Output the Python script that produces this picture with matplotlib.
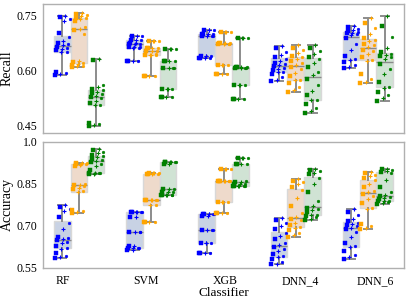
import numpy as np
import matplotlib
matplotlib.use('Agg')
import matplotlib.pyplot as plt

plt.rcParams['font.family'] = ['Liberation Serif', 'DejaVu Serif']

classifiers = ['RF', 'SVM', 'XGB', 'DNN_4', 'DNN_6']
metrics = ['Recall', 'Accuracy']

# each entry: [blue group, orange group, green group]
recall_RF = [
    [0.588, 0.590, 0.592, 0.596, 0.649, 0.650, 0.655, 0.658, 0.662, 0.665,
     0.669, 0.672, 0.676, 0.681, 0.690, 0.702, 0.735, 0.740, 0.745, 0.749],
    [0.609, 0.611, 0.613, 0.616, 0.619, 0.620, 0.622, 0.625, 0.700, 0.710,
     0.714, 0.718, 0.735, 0.740, 0.742, 0.743, 0.747, 0.750, 0.754, 0.757],
    [0.449, 0.452, 0.455, 0.458, 0.505, 0.506, 0.512, 0.518, 0.524, 0.527,
     0.531, 0.535, 0.538, 0.541, 0.546, 0.550, 0.555, 0.560, 0.628, 0.632],
]
recall_SVM = [
    [0.626] * 4 + [0.660] * 2 + [0.664] * 3 + [0.672] * 3 + [0.676] * 2 + [0.683] * 3 + [0.694] * 3,
    [0.585] * 4 + [0.642] * 4 + [0.645] + [0.654] * 3 + [0.660] * 4 + [0.681] * 4,
    [0.529] * 4 + [0.549] * 4 + [0.606] * 4 + [0.627] * 4 + [0.658] * 4,
]
recall_XGB = [
    [0.634] * 4 + [0.639] * 4 + [0.694] * 4 + [0.698] * 4 + [0.711] * 4,
    [0.590] * 4 + [0.616] * 4 + [0.672] * 4 + [0.676] * 4 + [0.706] * 4,
    [0.522] * 4 + [0.561] * 4 + [0.606] * 4 + [0.610] * 4 + [0.689] * 4,
]
recall_DNN_4 = [
    [0.571, 0.575, 0.582, 0.590, 0.596, 0.597, 0.601, 0.604, 0.608, 0.611,
     0.615, 0.618, 0.621, 0.626, 0.632, 0.636, 0.641, 0.650, 0.660, 0.667],
    [0.542, 0.548, 0.555, 0.566, 0.573, 0.574, 0.584, 0.594, 0.603, 0.609,
     0.615, 0.620, 0.626, 0.631, 0.636, 0.640, 0.648, 0.655, 0.662, 0.669],
    [0.484, 0.490, 0.498, 0.510, 0.519, 0.521, 0.532, 0.545, 0.560, 0.578,
     0.588, 0.597, 0.610, 0.621, 0.632, 0.636, 0.645, 0.652, 0.661, 0.669],
]
recall_DNN_6 = [
    [0.606, 0.610, 0.615, 0.622, 0.628, 0.630, 0.640, 0.655, 0.672, 0.688,
     0.696, 0.699, 0.701, 0.703, 0.704, 0.708, 0.711, 0.714, 0.718, 0.721],
    [0.565, 0.570, 0.578, 0.590, 0.626, 0.628, 0.638, 0.646, 0.652, 0.657,
     0.663, 0.668, 0.673, 0.679, 0.684, 0.688, 0.700, 0.715, 0.730, 0.742],
    [0.518, 0.525, 0.533, 0.542, 0.553, 0.555, 0.570, 0.590, 0.605, 0.618,
     0.630, 0.636, 0.640, 0.643, 0.646, 0.650, 0.662, 0.690, 0.720, 0.749],
]

accuracy_RF = [
    [0.587, 0.589, 0.592, 0.605, 0.619, 0.621, 0.630, 0.638, 0.644, 0.648,
     0.652, 0.656, 0.662, 0.690, 0.712, 0.732, 0.752, 0.760, 0.768, 0.774],
    [0.745, 0.748, 0.752, 0.756, 0.821, 0.823, 0.830, 0.836, 0.842, 0.845,
     0.847, 0.850, 0.912, 0.916, 0.919, 0.921, 0.922, 0.923, 0.923, 0.923],
    [0.884, 0.886, 0.887, 0.888, 0.889, 0.889, 0.900, 0.912, 0.922, 0.929,
     0.933, 0.936, 0.940, 0.944, 0.948, 0.954, 0.958, 0.965, 0.970, 0.974],
]
accuracy_SVM = [
    [0.615] * 2 + [0.620] * 4 + [0.630] * 2 + [0.680] * 4 + [0.732] * 2 + [0.748] * 6,
    [0.713] * 4 + [0.775] * 2 + [0.792] * 6 + [0.884] * 4 + [0.887] * 4,
    [0.810] * 6 + [0.822] * 3 + [0.832] * 3 + [0.920] * 2 + [0.927] * 6,
]
accuracy_XGB = [
    [0.602] * 4 + [0.638] * 4 + [0.685] * 4 + [0.737] * 2 + [0.741] * 6,
    [0.746] * 4 + [0.784] * 4 + [0.861] * 8 + [0.902] * 4,
    [0.842] * 6 + [0.850] * 3 + [0.857] * 2 + [0.860] + [0.920] * 4 + [0.941] * 4,
]
accuracy_DNN_4 = [
    [0.563, 0.566, 0.572, 0.582, 0.589, 0.591, 0.600, 0.610, 0.618, 0.625,
     0.631, 0.640, 0.652, 0.665, 0.676, 0.688, 0.700, 0.712, 0.722, 0.729],
    [0.662, 0.668, 0.676, 0.685, 0.693, 0.695, 0.704, 0.712, 0.720, 0.726,
     0.732, 0.745, 0.770, 0.800, 0.827, 0.839, 0.848, 0.855, 0.861, 0.867],
    [0.721, 0.726, 0.731, 0.735, 0.738, 0.740, 0.748, 0.755, 0.760, 0.765,
     0.771, 0.790, 0.820, 0.850, 0.872, 0.884, 0.889, 0.894, 0.899, 0.903],
]
accuracy_DNN_6 = [
    [0.582, 0.588, 0.597, 0.610, 0.625, 0.627, 0.640, 0.660, 0.678, 0.688,
     0.694, 0.698, 0.703, 0.708, 0.712, 0.716, 0.726, 0.738, 0.750, 0.760],
    [0.688, 0.693, 0.700, 0.706, 0.759, 0.763, 0.780, 0.795, 0.805, 0.813,
     0.819, 0.826, 0.838, 0.850, 0.862, 0.870, 0.876, 0.882, 0.888, 0.893],
    [0.778, 0.783, 0.786, 0.788, 0.789, 0.790, 0.795, 0.800, 0.804, 0.806,
     0.810, 0.820, 0.840, 0.865, 0.890, 0.893, 0.896, 0.899, 0.901, 0.903],
]

recall_data = [recall_RF, recall_SVM, recall_XGB, recall_DNN_4, recall_DNN_6]
accuracy_data = [accuracy_RF, accuracy_SVM, accuracy_XGB, accuracy_DNN_4, accuracy_DNN_6]

recall_ticks = [0.45, 0.60, 0.75]
accuracy_ticks = [0.55, 0.70, 0.85, 1.0]
accuracy_ticklabels = ['0.55', '0.70', '0.85', '1.0']

point_colors = ['blue', 'orange', 'green']
box_colors = ['#c8d2e4', '#eedacb', '#d0e3d4']
markers = ['s', '+', '.']
marker_sizes = {'s': 2.2, '+': 3.5, '.': 4.0}
label_offsets = [-0.23, -0.077, 0.018, 0.07, 0.106]

fig = plt.figure(figsize=(4.07, 2.99), dpi=100)
ax1 = fig.add_axes([0.1057, 0.5552, 0.8869, 0.4304])
ax2 = fig.add_axes([0.1057, 0.1037, 0.8869, 0.4224])

hue_step = 0.233
box_w = 0.228


def draw(ax, data):
    for i, groups in enumerate(data):
        for h, vals in enumerate(groups):
            pos = i + (h - 1) * hue_step
            ax.boxplot([vals], positions=[pos], widths=box_w, whis=(0, 100),
                       patch_artist=True, showfliers=False, manage_ticks=False,
                       boxprops=dict(facecolor=box_colors[h], edgecolor='#d8d8d8', linewidth=1.0),
                       whiskerprops=dict(color='#8c8c8c', linewidth=1.4),
                       capprops=dict(color='#8c8c8c', linewidth=1.4),
                       medianprops=dict(color='#8a8a8a', linewidth=1.0))
            n = len(vals)
            lin = np.linspace(-1, 1, n)
            order = [(k * 7) % n for k in range(n)]
            for k, v in enumerate(vals):
                x = pos + lin[order[k]] * box_w * 0.45
                m = markers[k % 3]
                ax.plot([x], [v], linestyle='none', marker=m, color=point_colors[h],
                        markersize=marker_sizes[m], markeredgewidth=0.8 if m == '+' else 0.3,
                        zorder=5)


draw(ax1, recall_data)
draw(ax2, accuracy_data)

for ax in (ax1, ax2):
    ax.set_xlim(-0.5, 4.5)
    for s in ax.spines.values():
        s.set_color('#b0b0b0')
        s.set_linewidth(1.0)
    ax.tick_params(length=0, labelsize=8.5, pad=4)

ax1.set_ylim(0.43, 0.78)
ax1.set_yticks(recall_ticks)
ax1.set_yticklabels(['%.2f' % t for t in recall_ticks])
ax1.set_xticks([])

ax2.set_ylim(0.55, 1.0)
ax2.set_yticks(accuracy_ticks)
ax2.set_yticklabels(accuracy_ticklabels)
ax2.set_xticks([i + o for i, o in enumerate(label_offsets)])
ax2.set_xticklabels(classifiers)
ax2.tick_params(axis='x', pad=5)

ax1.set_ylabel('Recall', fontsize=10)
ax2.set_ylabel('Accuracy', fontsize=10)
ax1.yaxis.set_label_coords(-0.082, 0.5)
ax2.yaxis.set_label_coords(-0.082, 0.5)
ax2.set_xlabel('Classifier', fontsize=9.5, labelpad=0)

fig.savefig('out.png', dpi=100)
